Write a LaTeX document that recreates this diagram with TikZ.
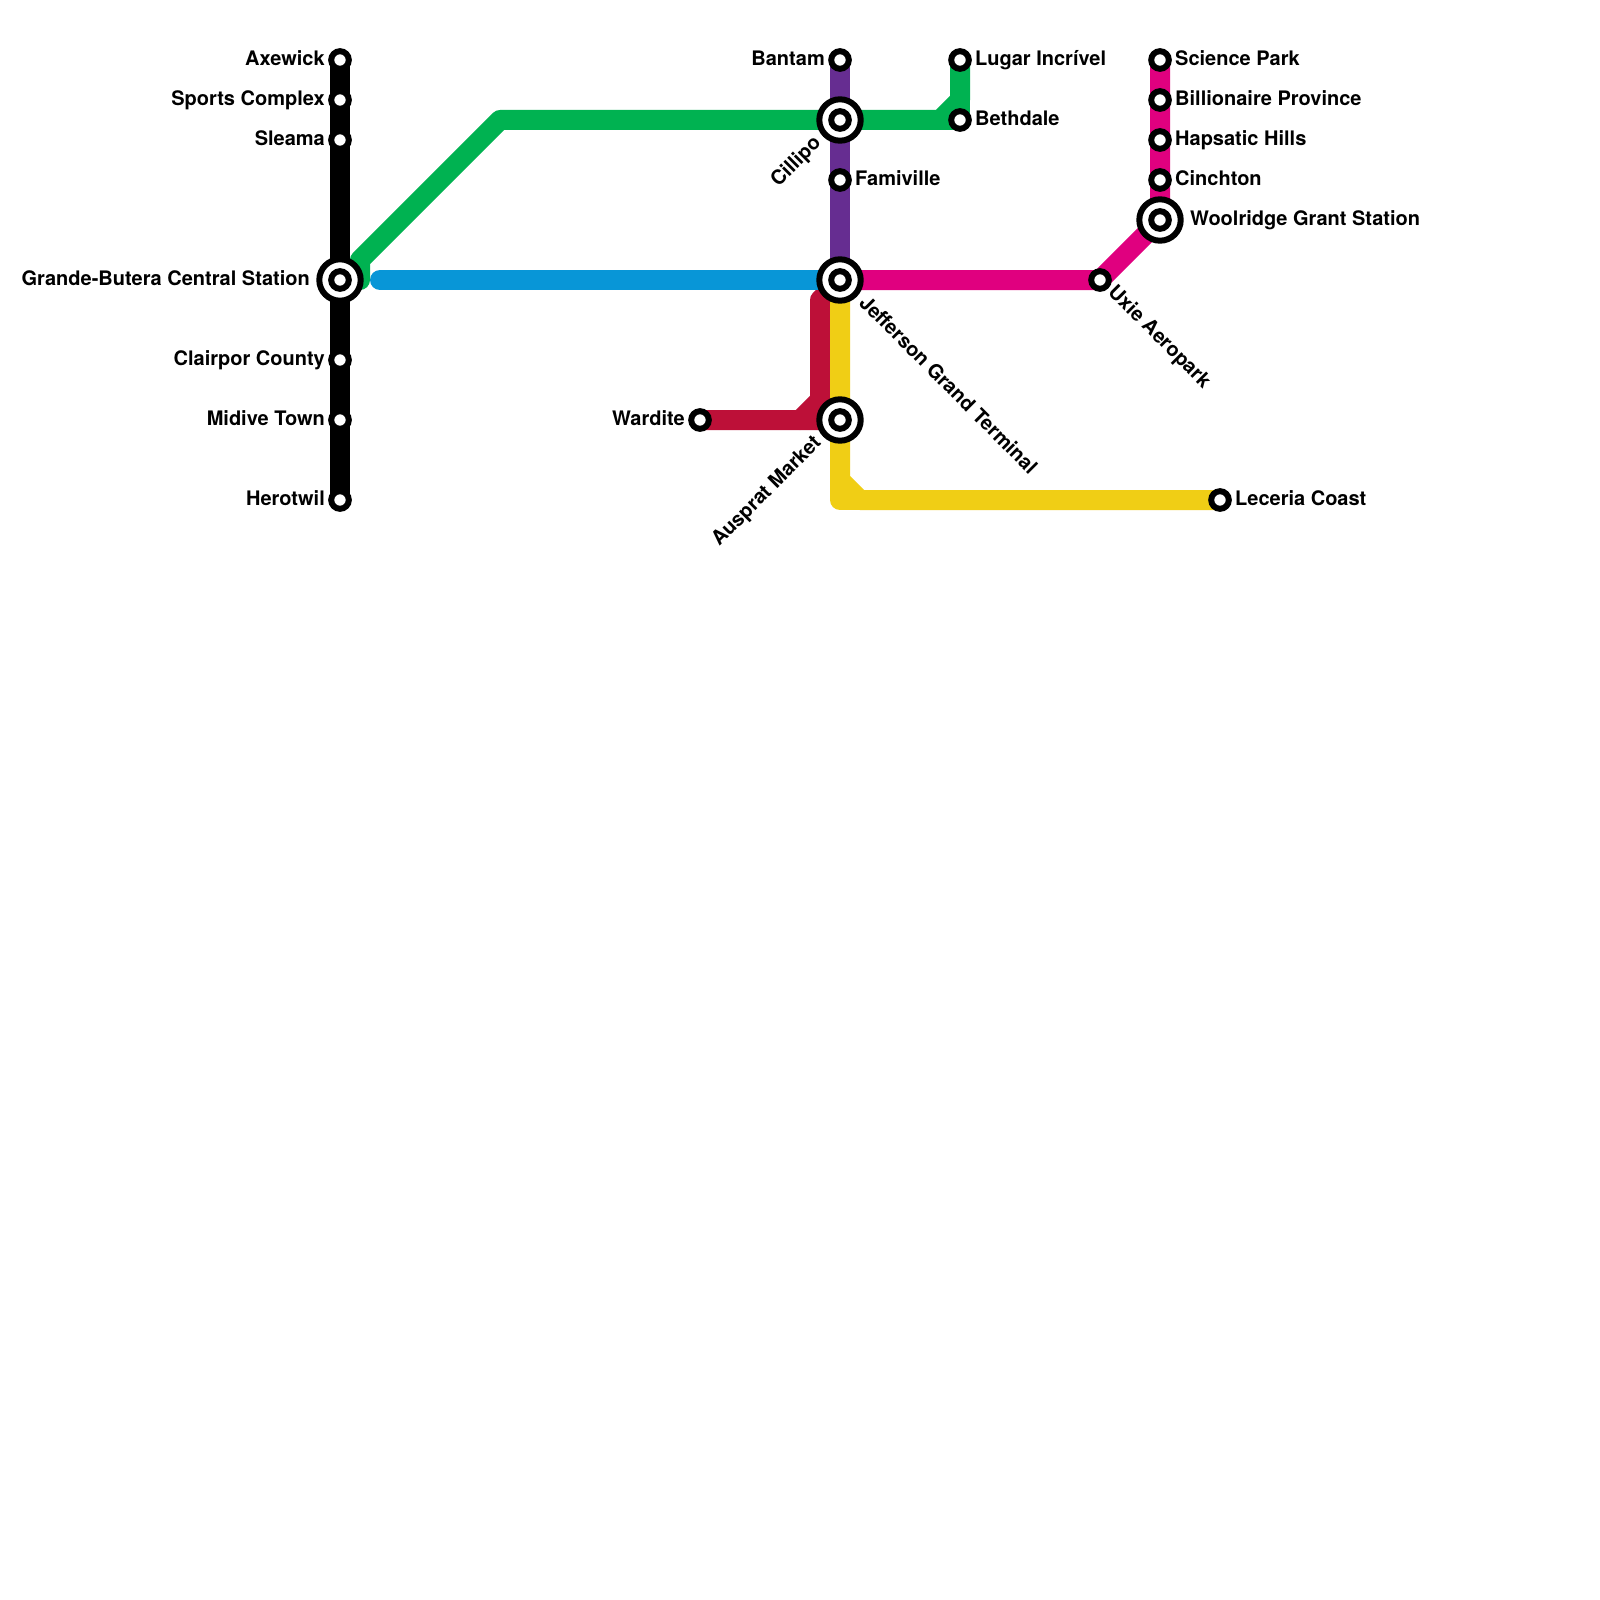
\documentclass[tikz,border=0pt]{standalone}
\usepackage{fontspec}
\setmainfont{TeX Gyre Heros}
\usetikzlibrary{backgrounds}
\definecolor{lgreen}{HTML}{00B251}
\definecolor{lblue}{HTML}{0896D7}
\definecolor{lpurple}{HTML}{662D91}
\definecolor{lmag}{HTML}{E0007F}
\definecolor{lred}{HTML}{BD1038}
\definecolor{lyellow}{HTML}{F0CE15}
\tikzset{
  stn/.style={circle,draw=black,fill=white,line width=6pt,minimum size=17.6pt,inner sep=0pt,outer sep=0pt},
  hubring/.style={circle,draw=black,fill=white,line width=6pt,minimum size=41.4pt,inner sep=0pt,outer sep=0pt},
  lbl/.style={inner sep=0pt,font=\fontsize{20}{20}\selectfont\bfseries,text=black},
  lineway/.style={line width=20pt,line join=round,line cap=round},
  bendpt/.style={inner sep=0pt,minimum size=0pt}
}
\begin{document}
\begin{tikzpicture}[x=1pt,y=-1pt]
\useasboundingbox (0,0) rectangle (1600,1600);
% stations
\node[stn] (axewick) at (340,60) {};
\node[stn] (sports) at (340,100) {};
\node[stn] (sleama) at (340,140) {};
\node[hubring] (grande) at (340,280) {};
\node[stn] (grandei) at (340,280) {};
\node[stn] (clairpor) at (340,360) {};
\node[stn] (midive) at (340,420) {};
\node[stn] (herotwil) at (340,500) {};
\node[stn] (bantam) at (840,60) {};
\node[hubring] (cillipo) at (840,120) {};
\node[stn] (cillipoi) at (840,120) {};
\node[stn] (famiville) at (840,180) {};
\node[hubring] (jefferson) at (840,280) {};
\node[stn] (jeffersoni) at (840,280) {};
\node[hubring] (auspat) at (840,420) {};
\node[stn] (auspati) at (840,420) {};
\node[stn] (wardite) at (700,420) {};
\node[stn] (lugar) at (960,60) {};
\node[stn] (bethdale) at (960,120) {};
\node[stn] (science) at (1160,60) {};
\node[stn] (billionaire) at (1160,100) {};
\node[stn] (hapsatic) at (1160,140) {};
\node[stn] (cinchton) at (1160,180) {};
\node[hubring] (woolridge) at (1160,220) {};
\node[stn] (woolridgei) at (1160,220) {};
\node[stn] (uxie) at (1100,280) {};
\node[stn] (leceria) at (1220,500) {};
% labels
\node[lbl,anchor=base east] (taxewick) at (325,65.5) {Axewick};
\node[lbl,anchor=base east] (tsports) at (325,105.5) {Sports Complex};
\node[lbl,anchor=base east] (tsleama) at (325,145.5) {Sleama};
\node[lbl,anchor=base east] (tgrande) at (310,285.5) {Grande-Butera Central Station};
\node[lbl,anchor=base east] (tclairpor) at (325,365.5) {Clairpor County};
\node[lbl,anchor=base east] (tmidive) at (325,425.5) {Midive Town};
\node[lbl,anchor=base east] (therotwil) at (325,505.5) {Herotwil};
\node[lbl,anchor=base east] (tbantam) at (825,65.5) {Bantam};
\node[lbl,anchor=base east] (twardite) at (685,425.5) {Wardite};
\node[lbl,anchor=base west] (tfamiville) at (855,185.5) {Famiville};
\node[lbl,anchor=base west] (tlugar) at (975,65.5) {Lugar Incrível};
\node[lbl,anchor=base west] (tbethdale) at (975,125.5) {Bethdale};
\node[lbl,anchor=base west] (tscience) at (1175,65.5) {Science Park};
\node[lbl,anchor=base west] (tbillionaire) at (1175,105.5) {Billionaire Province};
\node[lbl,anchor=base west] (thapsatic) at (1175,145.5) {Hapsatic Hills};
\node[lbl,anchor=base west] (tcinchton) at (1175,185.5) {Cinchton};
\node[lbl,anchor=base west] (twoolridge) at (1190,225.5) {Woolridge Grant Station};
\node[lbl,anchor=base west] (tleceria) at (1235,505.5) {Leceria Coast};
\node[lbl,anchor=base east,rotate=45] (tcillipo) at (822,144) {Cillipo};
\node[lbl,anchor=base east,rotate=45] (tauspat) at (822,444) {Ausprat Market};
\node[lbl,anchor=base west,rotate=-45] (tjefferson) at (858,304) {Jefferson Grand Terminal};
\node[lbl,anchor=base west,rotate=-45] (tuxie) at (1107,293) {Uxie Aeropark};
% bends
\node[bendpt] (gA) at (360,280) {};
\node[bendpt] (gB) at (360,260) {};
\node[bendpt] (gC) at (500,120) {};
\node[bendpt] (gD) at (940,120) {};
\node[bendpt] (gE) at (960,100) {};
\node[bendpt] (rA) at (800,420) {};
\node[bendpt] (rB) at (820,400) {};
\node[bendpt] (rC) at (820,300) {};
\node[bendpt] (yA) at (840,480) {};
\node[bendpt] (yB) at (840,500) {};
\node[bendpt] (yC) at (860,500) {};
\node[bendpt] (bA) at (380,280) {};
\begin{scope}[on background layer]
\fill[white] (0,0) rectangle (1600,1600);
\draw[lineway,draw=lred] (wardite.center) -- (rA.center) -- (rB.center) -- (rC.center) -- (jefferson.center);
\draw[lineway,draw=lred] (rA.center) -- (auspat.center) -- (rB.center);
\draw[lineway,draw=lyellow] (jefferson.center) -- (yA.center) -- (yC.center) -- (leceria.center);
\draw[lineway,draw=lyellow] (yA.center) -- (yB.center) -- (yC.center);
\draw[lineway,draw=lpurple] (bantam.center) -- (jefferson.center);
\draw[lineway,draw=lmag] (jefferson.center) -- (uxie.center) -- (woolridge.center) -- (science.center);
\draw[lineway,draw=lblue] (bA.center) -- (jefferson.center);
\draw[lineway,draw=lgreen] (gA.center) -- (gB.center) -- (gC.center) -- (cillipo.center) -- (gD.center) -- (gE.center) -- (lugar.center);
\draw[lineway,draw=lgreen] (gD.center) -- (bethdale.center) -- (lugar.center);
\draw[lineway,draw=black] (axewick.center) -- (herotwil.center);
\end{scope}
\end{tikzpicture}
\end{document}
